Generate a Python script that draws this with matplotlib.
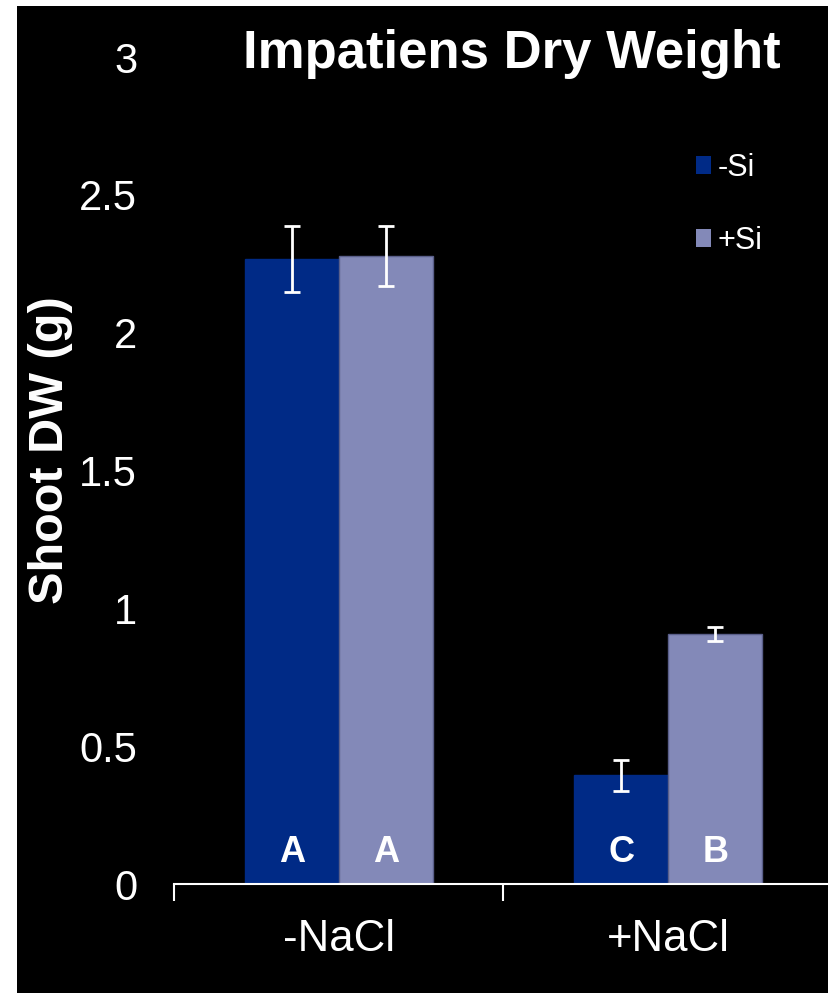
import matplotlib.pyplot as plt
from matplotlib.patches import Rectangle
import numpy as np

plt.rcParams['font.family'] = ['Liberation Sans', 'DejaVu Sans']

conditions = ['-NaCl', '+NaCl']
series = ['-Si', '+Si']
means = {'-Si': [2.267, 0.395], '+Si': [2.278, 0.907]}
errors = {'-Si': [0.12, 0.056], '+Si': [0.11, 0.025]}
letters = {'-Si': ['A', 'C'], '+Si': ['A', 'B']}
colors = {'-Si': '#002a86', '+Si': '#8389b8'}
edges = {'-Si': '#002a86', '+Si': '#5a5f8a'}
yticks = [0, 0.5, 1, 1.5, 2, 2.5, 3]
ytick_labels = ['0', '0.5', '1', '1.5', '2', '2.5', '3']

fig = plt.figure(figsize=(8.29, 9.93), dpi=100, facecolor='white')
# black panel with a thin white margin on the left and top
bg = Rectangle((17 / 829, 0), 1, 1 - 6 / 993, transform=fig.transFigure,
               facecolor='black', edgecolor='none', zorder=-10)
fig.add_artist(bg)

ax = fig.add_axes([174 / 829, 1 - 884 / 993, 659 / 829, 827 / 993])
ax.set_facecolor('black')
ax.set_zorder(1)

x = np.arange(len(conditions))
w = 0.285
for i, s in enumerate(series):
    pos = x + (i - 0.5) * w
    ax.bar(pos, means[s], w, color=colors[s], edgecolor=edges[s], linewidth=1)
    ax.errorbar(pos, means[s], yerr=errors[s], fmt='none', ecolor='white',
                elinewidth=2, capsize=6, capthick=2)
    for p, t in zip(pos, letters[s]):
        ax.text(p, 0.116, t, color='white', fontsize=26, fontweight='bold',
                ha='center', va='center')

ax.set_xlim(-0.5, 1.5)
ax.set_ylim(0, 3)
ax.set_yticks(yticks)
ax.set_yticklabels(ytick_labels)
ax.set_xticks(x)
ax.set_xticklabels(conditions)
ax.set_xticks([-0.5, 0.5, 1.5], minor=True)
ax.tick_params(axis='x', which='major', length=0, pad=25, labelsize=31.5, colors='white')
ax.tick_params(axis='x', which='minor', length=12, width=1.5, color='white', direction='out')
ax.tick_params(axis='y', length=0, pad=26.5, labelsize=30, labelcolor='white')

for side in ['top', 'right', 'left']:
    ax.spines[side].set_visible(False)
ax.spines['bottom'].set_color('white')
ax.spines['bottom'].set_linewidth(1.5)

ax.set_ylabel('Shoot DW (g)', color='white', fontsize=35, fontweight='bold', va='center')
ax.yaxis.set_label_coords(-0.188, 0.525)

fig.text(512 / 829, 1 - 54 / 993, 'Impatiens Dry Weight', color='white', fontsize=38,
         fontweight='bold', ha='center', va='center', zorder=5)

handles = [Rectangle((0, 0), 1, 1, facecolor=colors[s]) for s in series]
ax.legend(handles, series, loc='upper left', bbox_to_anchor=(0.792, 0.884), frameon=False,
          fontsize=22, labelcolor='white', handlelength=0.49, handleheight=0.55,
          handletextpad=0.23, labelspacing=1.4, borderpad=0, borderaxespad=0)

fig.savefig('out.png', dpi=100, facecolor=fig.get_facecolor())
